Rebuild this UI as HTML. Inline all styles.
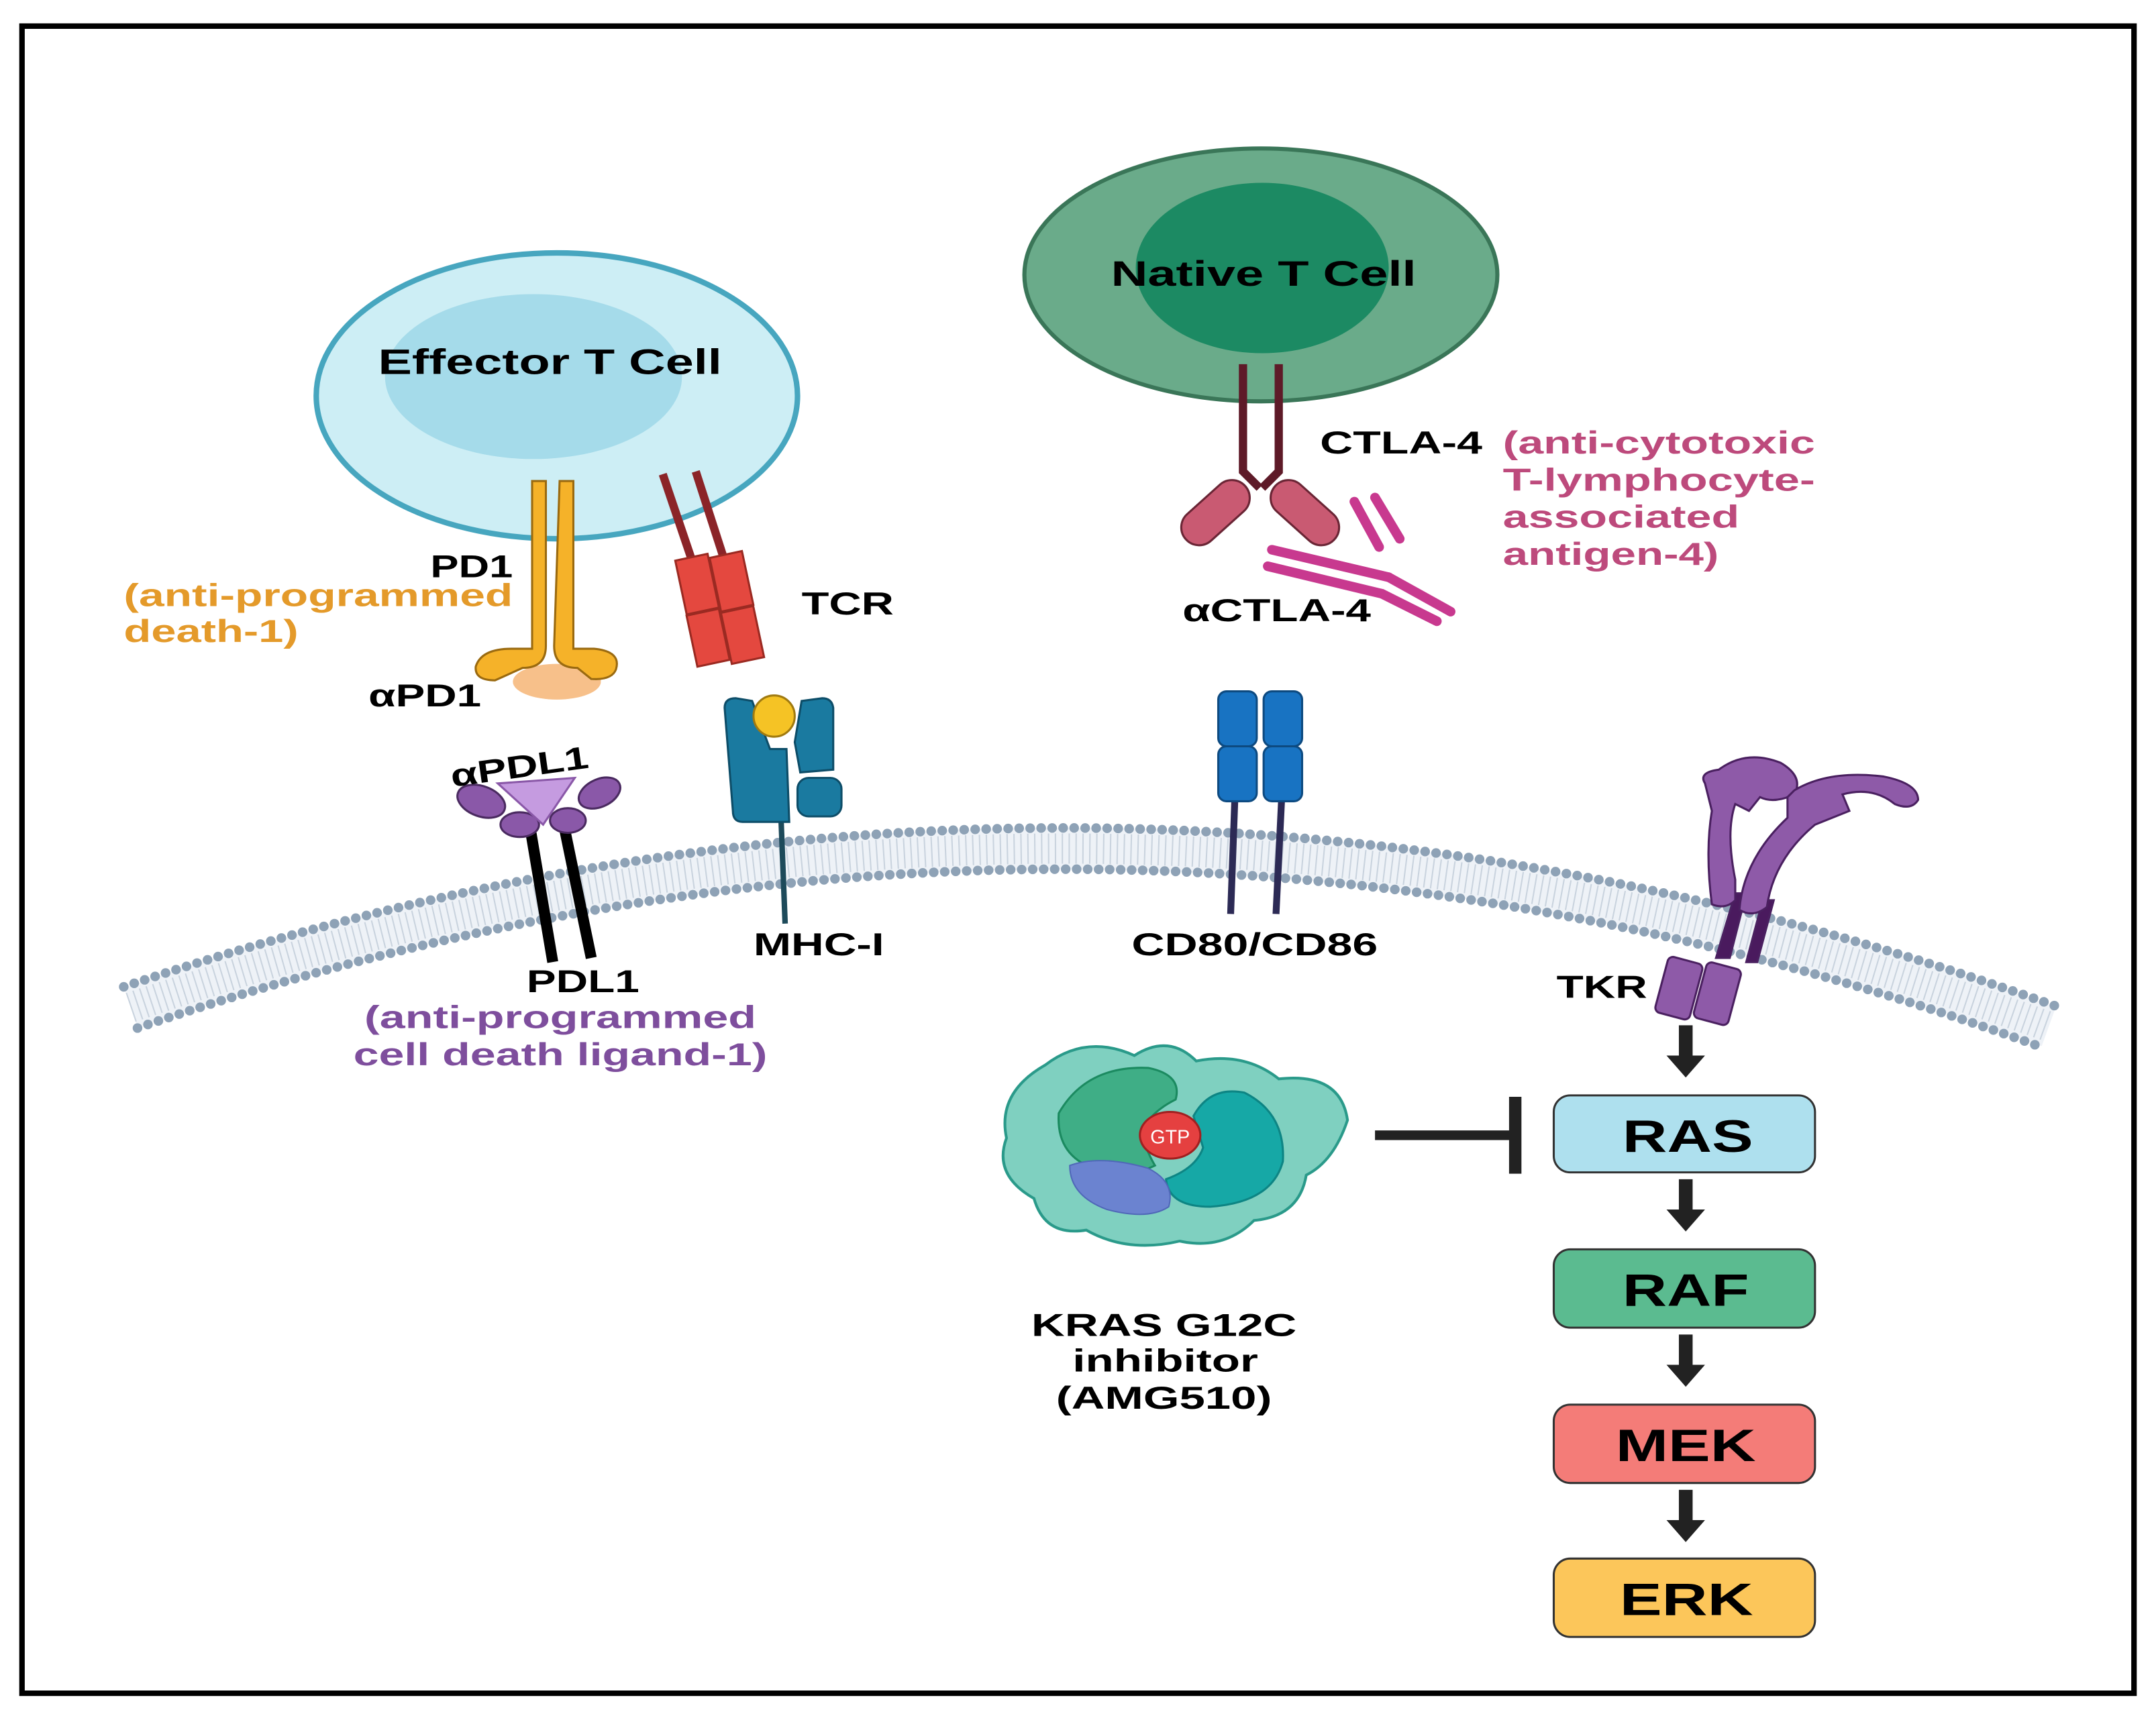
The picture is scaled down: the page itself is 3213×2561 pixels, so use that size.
<!DOCTYPE html>
<html><head><meta charset="utf-8"><style>
html,body{margin:0;padding:0;background:#fff;width:3213px;height:2561px;overflow:hidden}
svg{display:block}
text{font-family:"Liberation Sans",Arial,sans-serif;font-weight:bold}
</style></head><body>
<svg width="3213" height="2561" viewBox="0 0 1568 1250" preserveAspectRatio="none" xmlns="http://www.w3.org/2000/svg">
<rect x="0" y="0" width="1568" height="1250" fill="#fff"/>
<rect x="16" y="19" width="1536" height="1213" fill="none" stroke="#000" stroke-width="4"/>

<!-- membrane -->
<path d="M95 733 Q795 495 1490 747" fill="none" stroke="#eef2f7" stroke-width="30"/>
<path d="M95 733 Q795 495 1490 747" fill="none" stroke="#c9d3de" stroke-width="22" stroke-dasharray="1 4"/>
<path d="M90 718 Q795 480 1495 732" fill="none" stroke="#8ea2b6" stroke-width="7" stroke-linecap="round" stroke-dasharray="0 8"/>
<path d="M100 748 Q795 510 1485 762" fill="none" stroke="#8ea2b6" stroke-width="7" stroke-linecap="round" stroke-dasharray="0 8"/>

<!-- Effector T cell -->
<ellipse cx="405" cy="288" rx="175" ry="104" fill="#cdeef5" stroke="#47a6bf" stroke-width="4"/>
<ellipse cx="388" cy="274" rx="108" ry="60" fill="#a5dbea"/>
<text x="275" y="272" font-size="26" textLength="250" lengthAdjust="spacingAndGlyphs">Effector T Cell</text>

<!-- Native T cell -->
<ellipse cx="917" cy="200" rx="172" ry="92" fill="#6aab8a" stroke="#3a7658" stroke-width="3"/>
<ellipse cx="918" cy="195" rx="92" ry="62" fill="#1c8a63"/>
<text x="808" y="208" font-size="26" textLength="222" lengthAdjust="spacingAndGlyphs">Native T Cell</text>

<!-- PD1 -->
<ellipse cx="405" cy="496" rx="32" ry="13" fill="#f7c08a"/>
<path d="M387 350 L397 350 L397 470 Q397 486 380 486 L360 495 Q345 495 346 485 Q350 472 372 472 L387 472 Z" fill="#f5b229" stroke="#9a6a10" stroke-width="1.5"/>
<path d="M407 350 L417 350 L417 472 L432 472 Q452 474 448 487 Q445 495 430 494 L420 486 Q403 486 403 470 Z" fill="#f5b229" stroke="#9a6a10" stroke-width="1.5"/>
<text x="313" y="420" font-size="23" textLength="60" lengthAdjust="spacingAndGlyphs">PD1</text>
<text x="90" y="441" font-size="23" fill="#e49a2a" textLength="283" lengthAdjust="spacingAndGlyphs">(anti-programmed</text>
<text x="90" y="467" font-size="23" fill="#e49a2a" textLength="127" lengthAdjust="spacingAndGlyphs">death-1)</text>
<text x="268" y="514" font-size="23" textLength="82" lengthAdjust="spacingAndGlyphs">αPD1</text>

<!-- TCR -->
<path d="M482 345 L503 407 M506 343 L526 405" stroke="#8b2428" stroke-width="6"/>
<g fill="#e4483f" stroke="#9b2a22" stroke-width="1.5">
<rect x="495" y="405" width="24" height="40" transform="rotate(-12 507 425)"/>
<rect x="520" y="403" width="24" height="40" transform="rotate(-12 532 423)"/>
<rect x="503" y="445" width="24" height="38" transform="rotate(-12 515 464)"/>
<rect x="528" y="443" width="24" height="38" transform="rotate(-12 540 462)"/>
</g>
<text x="583" y="447" font-size="23" textLength="67" lengthAdjust="spacingAndGlyphs">TCR</text>

<!-- MHC-I -->
<line x1="568" y1="595" x2="571" y2="672" stroke="#1d4a5a" stroke-width="4"/>
<path d="M527 515 Q527 508 535 508 L547 510 L560 545 L572 545 L574 598 L540 598 Q533 598 533 590 Z" fill="#1a7aa0" stroke="#0d4d68" stroke-width="1.5"/>
<path d="M583 510 L598 508 Q605 508 606 515 L606 560 L582 562 L578 540 Z" fill="#1a7aa0" stroke="#0d4d68" stroke-width="1.5"/>
<rect x="580" y="566" width="32" height="28" rx="8" fill="#1a7aa0" stroke="#0d4d68" stroke-width="1.5"/>
<circle cx="563" cy="521" r="15" fill="#f5c325" stroke="#a07a10" stroke-width="1.5"/>
<text x="548" y="695" font-size="23" textLength="95" lengthAdjust="spacingAndGlyphs">MHC-I</text>

<!-- PDL1 -->
<line x1="386" y1="605" x2="402" y2="700" stroke="#000" stroke-width="8"/>
<line x1="410" y1="600" x2="430" y2="697" stroke="#000" stroke-width="8"/>
<g fill="#8a58a8" stroke="#4a2a60" stroke-width="1.5">
<ellipse cx="350" cy="583" rx="18" ry="11" transform="rotate(20 350 583)"/>
<ellipse cx="378" cy="600" rx="14" ry="9"/>
<ellipse cx="436" cy="577" rx="16" ry="10" transform="rotate(-25 436 577)"/>
<ellipse cx="413" cy="597" rx="13" ry="9"/>
</g>
<path d="M362 570 L418 566 L395 600 Z" fill="#c59be0" stroke="#8a58a8" stroke-width="1.5"/>
<text x="327" y="566" font-size="23" transform="rotate(-8 375 556)" textLength="101" lengthAdjust="spacingAndGlyphs">αPDL1</text>
<text x="383" y="722" font-size="23" textLength="82" lengthAdjust="spacingAndGlyphs">PDL1</text>
<text x="265" y="748" font-size="23" fill="#7e4e9d" textLength="285" lengthAdjust="spacingAndGlyphs">(anti-programmed</text>
<text x="257" y="775" font-size="23" fill="#7e4e9d" textLength="301" lengthAdjust="spacingAndGlyphs">cell death ligand-1)</text>

<!-- CD80/CD86 -->
<line x1="898" y1="583" x2="895" y2="665" stroke="#2c2a55" stroke-width="5"/>
<line x1="932" y1="583" x2="928" y2="665" stroke="#2c2a55" stroke-width="5"/>
<g fill="#1873c2" stroke="#0d4a80" stroke-width="1.5">
<rect x="886" y="503" width="28" height="40" rx="6"/>
<rect x="919" y="503" width="28" height="40" rx="6"/>
<rect x="886" y="543" width="28" height="40" rx="6"/>
<rect x="919" y="543" width="28" height="40" rx="6"/>
</g>
<text x="823" y="695" font-size="23" textLength="179" lengthAdjust="spacingAndGlyphs">CD80/CD86</text>

<!-- CTLA-4 -->
<path d="M904 265 L904 343 L916 355 M930 265 L930 343 L918 355" fill="none" stroke="#5e1a28" stroke-width="6"/>
<rect x="855" y="360" width="58" height="26" rx="13" fill="#c95a72" stroke="#6a2535" stroke-width="1.5" transform="rotate(-42 884 373)"/>
<rect x="920" y="360" width="58" height="26" rx="13" fill="#c95a72" stroke="#6a2535" stroke-width="1.5" transform="rotate(42 949 373)"/>
<g stroke="#c8398f" stroke-width="7" stroke-linecap="round" fill="none">
<line x1="985" y1="365" x2="1003" y2="398"/><line x1="1000" y1="362" x2="1018" y2="392"/>
<line x1="925" y1="400" x2="1010" y2="420"/><line x1="922" y1="412" x2="1005" y2="432"/>
<line x1="1010" y1="420" x2="1055" y2="445"/><line x1="1005" y1="432" x2="1045" y2="452"/>
</g>
<text x="960" y="330" font-size="23" textLength="118" lengthAdjust="spacingAndGlyphs">CTLA-4</text>
<g font-size="23" fill="#bd4a7c">
<text x="1093" y="330" textLength="227" lengthAdjust="spacingAndGlyphs">(anti-cytotoxic</text>
<text x="1093" y="357" textLength="227" lengthAdjust="spacingAndGlyphs">T-lymphocyte-</text>
<text x="1093" y="384" textLength="172" lengthAdjust="spacingAndGlyphs">associated</text>
<text x="1093" y="411" textLength="157" lengthAdjust="spacingAndGlyphs">antigen-4)</text>
</g>
<text x="860" y="452" font-size="23" textLength="137" lengthAdjust="spacingAndGlyphs">αCTLA-4</text>

<!-- TKR -->
<g fill="#8e5aa8" stroke="#4a2060" stroke-width="1.5">
<path d="M1248 697 L1262 650 L1270 650 L1258 697 Z M1270 700 L1282 655 L1290 655 L1278 700 Z" fill="#4a1a5e"/>
<path d="M1250 560 Q1270 545 1295 555 Q1312 565 1305 578 Q1290 585 1280 580 L1272 590 L1262 585 Q1255 605 1262 640 L1262 655 Q1255 662 1245 658 Q1240 620 1245 590 L1240 570 Q1235 562 1250 560 Z"/>
<path d="M1305 575 Q1330 560 1370 565 Q1395 570 1395 582 Q1390 590 1378 585 Q1362 572 1340 578 L1345 590 L1320 600 Q1290 625 1285 660 Q1275 668 1265 662 Q1268 625 1300 595 L1300 580 Z"/>
<rect x="1208" y="698" width="26" height="42" rx="4" transform="rotate(15 1221 719)"/>
<rect x="1236" y="702" width="26" height="42" rx="4" transform="rotate(15 1249 723)"/>
</g>
<text x="1132" y="726" font-size="23" textLength="66" lengthAdjust="spacingAndGlyphs">TKR</text>

<!-- KRAS -->
<path d="M760 775 Q790 752 825 768 Q850 752 870 772 Q905 765 930 785 Q975 780 980 815 Q970 845 950 855 Q945 885 912 888 Q890 910 858 903 Q820 912 790 895 Q760 900 752 872 Q722 855 732 828 Q725 795 760 775 Z" fill="#7fd0c0" stroke="#2a9a8a" stroke-width="2"/>
<path d="M770 810 Q790 775 835 777 Q860 782 855 800 Q835 810 830 825 Q835 840 840 848 Q820 858 795 850 Q768 840 770 810 Z" fill="#3fae86" stroke="#1b8a60" stroke-width="1.5"/>
<path d="M868 812 Q880 790 905 795 Q935 810 933 845 Q925 875 880 878 Q850 878 848 858 Q870 850 875 835 Z" fill="#16a8a6" stroke="#0d8584" stroke-width="1.5"/>
<path d="M778 848 Q800 840 835 850 Q855 860 850 878 Q835 888 805 880 Q778 870 778 848 Z" fill="#6b83d0" stroke="#5068b8" stroke-width="1"/>
<ellipse cx="851" cy="826" rx="22" ry="17" fill="#e54040" stroke="#a02020" stroke-width="1.5"/>
<text x="851" y="832" font-size="14" fill="#fff" text-anchor="middle" style="font-weight:normal">GTP</text>
<g font-size="23">
<text x="750" y="972" textLength="193" lengthAdjust="spacingAndGlyphs">KRAS G12C</text>
<text x="780" y="998" textLength="135" lengthAdjust="spacingAndGlyphs">inhibitor</text>
<text x="768" y="1025" textLength="157" lengthAdjust="spacingAndGlyphs">(AMG510)</text>
</g>

<!-- inhibition -->
<line x1="1000" y1="826" x2="1100" y2="826" stroke="#222" stroke-width="7"/>
<line x1="1102" y1="798" x2="1102" y2="854" stroke="#222" stroke-width="9"/>

<!-- pathway -->
<g stroke="#333" stroke-width="1.5">
<rect x="1130" y="797" width="190" height="56" rx="12" fill="#aee0ee"/>
<rect x="1130" y="909" width="190" height="57" rx="12" fill="#5bbb90"/>
<rect x="1130" y="1022" width="190" height="57" rx="12" fill="#f47c78"/>
<rect x="1130" y="1134" width="190" height="57" rx="12" fill="#fcc65a"/>
</g>
<g font-size="33">
<text x="1180" y="838" textLength="95" lengthAdjust="spacingAndGlyphs">RAS</text>
<text x="1180" y="950" textLength="92" lengthAdjust="spacingAndGlyphs">RAF</text>
<text x="1175" y="1063" textLength="102" lengthAdjust="spacingAndGlyphs">MEK</text>
<text x="1178" y="1175" textLength="97" lengthAdjust="spacingAndGlyphs">ERK</text>
</g>
<g fill="#222">
<path d="M1221 746 h10 v22 h9 l-14 16 l-14 -16 h9 Z"/>
<path d="M1221 858 h10 v22 h9 l-14 16 l-14 -16 h9 Z"/>
<path d="M1221 971 h10 v22 h9 l-14 16 l-14 -16 h9 Z"/>
<path d="M1221 1084 h10 v22 h9 l-14 16 l-14 -16 h9 Z"/>
</g>
</svg>
</body></html>
